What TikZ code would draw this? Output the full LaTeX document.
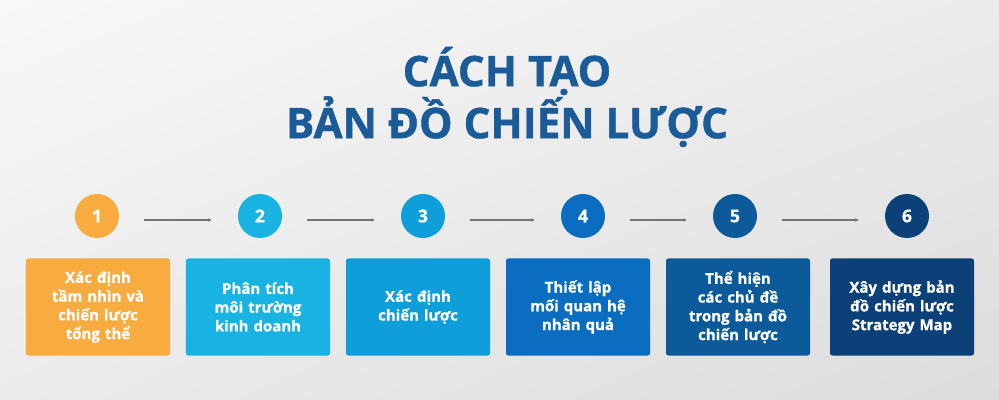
\documentclass[tikz,border=0pt]{standalone}
\usepackage{fontspec}
\setmainfont{Open Sans}[BoldFeatures={FakeBold=1}]
\usetikzlibrary{arrows.meta, shadings}

\definecolor{titleblue}{HTML}{1B5C98}
\definecolor{stepA}{HTML}{F8AB3F}
\definecolor{stepB}{HTML}{18B2E3}
\definecolor{stepC}{HTML}{0E9FDB}
\definecolor{stepD}{HTML}{0A6DBF}
\definecolor{stepE}{HTML}{0D5A9A}
\definecolor{stepF}{HTML}{0C4079}
\definecolor{bgtop}{HTML}{F8F8F8}
\definecolor{bgmid}{HTML}{EBEBEB}
\definecolor{bgbot}{HTML}{DCDCDC}

\tikzstyle{title} = [text=titleblue, font=\fontsize{36}{42}\selectfont\bfseries, align=center]
\tikzstyle{num} = [circle, minimum size=1.32cm, inner sep=0pt, text=white, font=\fontsize{15}{16}\selectfont\bfseries]
\tikzstyle{card} = [rectangle, rounded corners=2pt, minimum width=4.32cm, minimum height=2.91cm, text width=4cm, align=center, text=white, font=\fontsize{12.8}{16}\selectfont\bfseries]
\tikzstyle{arrow} = [draw=gray!90!black, line width=0.9pt, -{Stealth[length=3pt,width=3pt]}, shorten <=1.4cm, shorten >=1.45cm]

\begin{document}
\begin{tikzpicture}[x=0.03cm, y=-0.03cm]
\shade[upper left=bgtop, upper right=bgmid, lower left=bgmid, lower right=bgbot] (0,0) rectangle (999,400);
\useasboundingbox (0,0) rectangle (999,400);

\node (head) [title] at (507,97) {CÁCH TẠO\\BẢN ĐỒ CHIẾN LƯỢC};

\node (n1) [num, fill=stepA] at (97,216) {1};
\node (n2) [num, fill=stepB] at (260,216) {2};
\node (n3) [num, fill=stepC] at (423,216) {3};
\node (n4) [num, fill=stepD] at (583,216) {4};
\node (n5) [num, fill=stepE] at (735,216) {5};
\node (n6) [num, fill=stepF] at (907,216) {6};

\node (s1) [card, fill=stepA] at (98,307) {Xác định\\tầm nhìn và\\chiến lược\\tổng thể};
\node (s2) [card, fill=stepB] at (258,307) {Phân tích\\môi trường\\kinh doanh};
\node (s3) [card, fill=stepC] at (418,307) {Xác định\\chiến lược};
\node (s4) [card, fill=stepD] at (578,307) {Thiết lập\\mối quan hệ\\nhân quả};
\node (s5) [card, fill=stepE] at (738,307) {Thể hiện\\các chủ đề\\trong bản đồ\\chiến lược};
\node (s6) [card, fill=stepF] at (902,307) {Xây dựng bản\\đồ chiến lược\\Strategy Map};

\draw [arrow] ([yshift=-0.12cm]n1.center) -- ([yshift=-0.12cm]n2.center);
\draw [arrow] ([yshift=-0.12cm]n2.center) -- ([yshift=-0.12cm]n3.center);
\draw [arrow] ([yshift=-0.12cm]n3.center) -- ([yshift=-0.12cm]n4.center);
\draw [arrow] ([yshift=-0.12cm]n4.center) -- ([yshift=-0.12cm]n5.center);
\draw [arrow] ([yshift=-0.12cm]n5.center) -- ([yshift=-0.12cm]n6.center);

\end{tikzpicture}
\end{document}
